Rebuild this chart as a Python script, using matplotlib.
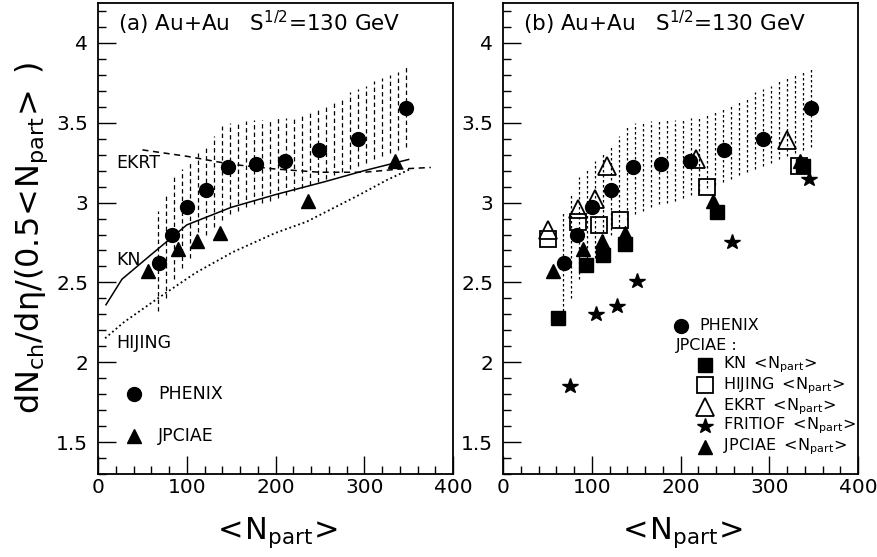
import numpy as np
import matplotlib
matplotlib.use('Agg')
import matplotlib.pyplot as plt
from matplotlib.ticker import MultipleLocator, FuncFormatter

plt.rcParams['font.family'] = 'DejaVu Sans'
plt.rcParams['mathtext.default'] = 'regular'

# PHENIX data
phenix_n = [69, 83, 100, 122, 147, 178, 211, 249, 293, 347]
phenix_v = [2.62, 2.80, 2.97, 3.08, 3.22, 3.24, 3.26, 3.33, 3.40, 3.59]

# systematic band (vertical dashed lines)
band_n = [68, 77, 86, 95, 104, 113, 122, 131, 140, 149, 158, 167, 176, 185, 194, 203,
          212, 221, 230, 239, 248, 257, 266, 275, 284, 293, 302, 311, 320, 329, 338, 347]
band_hi = [2.95, 3.05, 3.16, 3.21, 3.26, 3.31, 3.36, 3.42, 3.48, 3.50, 3.51, 3.51, 3.52, 3.52, 3.52, 3.53,
           3.53, 3.54, 3.55, 3.57, 3.60, 3.62, 3.64, 3.66, 3.69, 3.71, 3.73, 3.76, 3.78, 3.80, 3.82, 3.85]
band_lo = [2.32, 2.40, 2.52, 2.59, 2.65, 2.72, 2.80, 2.85, 2.89, 2.93, 2.95, 2.97, 2.99, 3.00, 3.01, 3.03,
           3.05, 3.07, 3.09, 3.11, 3.13, 3.15, 3.17, 3.19, 3.21, 3.23, 3.25, 3.27, 3.29, 3.31, 3.33, 3.35]

# model curves, panel (a)
ekrt_n = [50, 100, 150, 200, 250, 300, 340, 375]
ekrt_v = [3.33, 3.29, 3.24, 3.21, 3.19, 3.19, 3.21, 3.22]
kn_n = [9, 27, 59, 100, 150, 200, 255, 300, 350]
kn_v = [2.36, 2.52, 2.67, 2.86, 2.97, 3.05, 3.13, 3.20, 3.27]
hij_n = [8, 29, 70, 110, 152, 200, 235, 295, 325, 352]
hij_v = [2.15, 2.25, 2.41, 2.56, 2.69, 2.81, 2.88, 3.05, 3.14, 3.21]

# JPCIAE with its own <Npart>
jpc_n = [56, 90, 111, 137, 237, 335]
jpc_v = [2.57, 2.71, 2.76, 2.81, 3.01, 3.26]

# JPCIAE with model <Npart>, panel (b)
kn_pn = [62, 93, 113, 138, 241, 338]
kn_pv = [2.28, 2.61, 2.67, 2.74, 2.94, 3.23]
hij_pn = [51, 84, 108, 132, 230, 333]
hij_pv = [2.77, 2.88, 2.86, 2.89, 3.10, 3.23]
ekrt_pn = [51, 85, 104, 117, 218, 320]
ekrt_pv = [2.83, 2.96, 3.02, 3.23, 3.27, 3.39]
frit_pn = [75, 105, 129, 151, 258, 345]
frit_pv = [1.85, 2.30, 2.35, 2.51, 2.75, 3.15]

fig = plt.figure(figsize=(8.77, 5.57), dpi=100)
W, H = 877.0, 557.0
axl = fig.add_axes([98 / W, 1 - 474 / H, 355 / W, 471 / H])
axr = fig.add_axes([503 / W, 1 - 474 / H, 355 / W, 471 / H])

for ax in (axl, axr):
    ax.set_xlim(0, 400)
    ax.set_ylim(1.3, 4.25)
    ax.xaxis.set_major_locator(MultipleLocator(100))
    ax.xaxis.set_minor_locator(MultipleLocator(20))
    ax.yaxis.set_major_locator(MultipleLocator(0.5))
    ax.yaxis.set_minor_locator(MultipleLocator(0.1))
    ax.yaxis.set_major_formatter(FuncFormatter(lambda v, p: '%g' % v))
    ax.tick_params(which='both', direction='in', top=False, right=False, labelsize=14.5, width=1)
    ax.tick_params(which='major', length=13)
    ax.tick_params(which='minor', length=6)
    ax.tick_params(axis='x', which='major', pad=3)
    ax.tick_params(axis='y', which='major', pad=7)
    for s in ax.spines.values():
        s.set_linewidth(1.3)
    ax.vlines(band_n, band_lo, band_hi, colors='black', linewidth=0.9,
              linestyles=(0, (3.5, 2.5)) if ax is axl else (0, (2, 2)))
    ax.plot(phenix_n, phenix_v, 'o', color='black', ms=10, zorder=5)
    ax.plot(jpc_n, jpc_v, '^', color='black', ms=10.5, zorder=5)

# panel (a)
axl.plot(ekrt_n, ekrt_v, color='black', lw=1.1, ls=(0, (4, 3)))
axl.plot(kn_n, kn_v, color='black', lw=1.1)
axl.plot(hij_n, hij_v, color='black', lw=1.3, ls=(0, (1, 1.6)))
axl.text(20, 3.245, 'EKRT', fontsize=12.5, va='center')
axl.text(20, 2.64, 'KN', fontsize=12.5, va='center')
axl.text(20, 2.12, 'HIJING', fontsize=12.5, va='center')
axl.text(22, 4.125, r'(a) Au+Au   S$^{1/2}$=130 GeV', fontsize=15.5, va='center')
axl.plot([40], [1.80], 'o', color='black', ms=10)
axl.text(68, 1.80, 'PHENIX', fontsize=12.5, va='center')
axl.plot([40], [1.54], '^', color='black', ms=10.5)
axl.text(68, 1.54, 'JPCIAE', fontsize=12.5, va='center')

# panel (b)
axr.plot(kn_pn, kn_pv, 's', color='black', ms=9.5, zorder=4)
axr.plot(hij_pn, hij_pv, 's', mfc='none', mec='black', mew=1.3, ms=12, zorder=4)
axr.plot(ekrt_pn, ekrt_pv, '^', mfc='none', mec='black', mew=1.3, ms=13.5, zorder=4)
axr.plot(frit_pn, frit_pv, '*', color='black', ms=11.5, zorder=4)
axr.text(22, 4.125, r'(b) Au+Au   S$^{1/2}$=130 GeV', fontsize=15.5, va='center')

leg_x, txt_x = 228, 248
axr.plot([200], [2.23], 'o', color='black', ms=10)
axr.text(221, 2.23, 'PHENIX', fontsize=11.5, va='center')
axr.text(195, 2.105, 'JPCIAE :', fontsize=11.5, va='center')
rows = [('s', dict(color='black', ms=9.5), 'KN'),
        ('s', dict(mfc='none', mec='black', mew=1.3, ms=12), 'HIJING'),
        ('^', dict(mfc='none', mec='black', mew=1.3, ms=13.5), 'EKRT'),
        ('*', dict(color='black', ms=11.5), 'FRITIOF'),
        ('^', dict(color='black', ms=10.5), 'JPCIAE')]
leg_y = [1.985, 1.856, 1.72, 1.60, 1.47]
for (m, kw, name), y in zip(rows, leg_y):
    axr.plot([leg_x], [y], m, **kw)
    axr.text(txt_x, y, name + r' $<\!N_{part}\!>$', fontsize=11.5, va='center')

fig.text(32 / W, 1 - 238 / H, r'$dN_{ch}/d\eta/(0.5\!<\!N_{part}\!>\;)$', fontsize=23,
         rotation=90, ha='center', va='center')
fig.text(275 / W, 1 - 533 / H, r'$<\!N_{part}\!>$', fontsize=22, ha='center', va='center')
fig.text(680 / W, 1 - 533 / H, r'$<\!N_{part}\!>$', fontsize=22, ha='center', va='center')

fig.savefig('out.png', dpi=100)
